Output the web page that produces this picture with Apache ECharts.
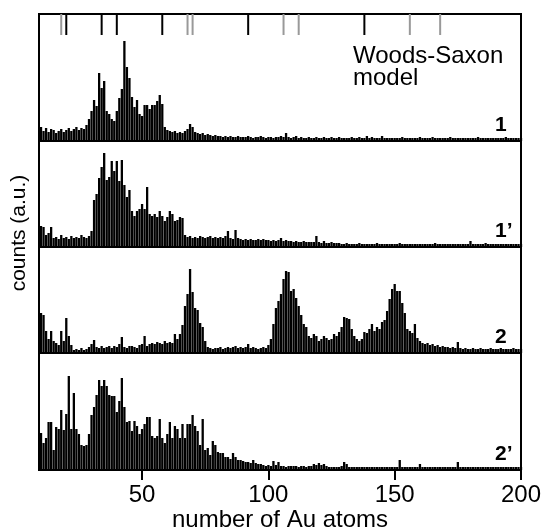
<!DOCTYPE html>
<html>
<head>
<meta charset="utf-8">
<script src="https://cdn.jsdelivr.net/npm/echarts@6/dist/echarts.min.js"></script>
<style>
html,body{margin:0;padding:0;background:#fff;}
#c{width:542px;height:530px;}
</style>
</head>
<body>
<div id="c"></div>
<script>
// ---- data: number of Au atoms from 10 to 200, counts (a.u.) per cluster size ----
const N_FIRST = 10, N_LAST = 200;
const xTicks = [50, 100, 150, 200];
const magicBlack = [20, 34, 40, 58, 92, 138];
const magicGrey = [18, 68, 70, 106, 112, 156, 168];
const panelLabels = ['1', '1\u2019', '2', '2\u2019'];

const s1 = [
 14,10,13,9,12,11,8,10,12,9,
 11,13,10,12,14,11,13,12,16,22,
 30,41,35,68,53,60,30,27,22,20,
 30,43,52,100,74,63,44,34,41,27,
 25,36,36,32,36,36,40,46,37,14,
 11,10,9,10,8,9,8,10,12,17,
 14,9,8,7,8,6,7,6,5,6,
 5,5,4,5,4,5,4,4,5,4,
 4,4,5,4,3,4,4,5,4,3,
 4,4,3,4,4,5,4,8,4,3,
 4,5,3,4,3,3,4,3,3,4,
 3,3,4,3,3,4,3,3,4,3,
 3,3,3,4,3,3,4,3,3,5,
 3,4,3,3,3,5,3,3,3,3,
 3,3,3,4,3,3,3,3,3,3,
 4,3,3,3,3,4,3,3,3,3,
 3,3,4,3,3,3,3,3,3,3,
 3,3,3,4,3,3,3,3,3,3,
 3,3,3,3,4,3,3,3,3,3,3
];
const s1p = [
 21,20,12,14,20,9,10,8,12,9,
 10,8,11,9,10,9,12,10,9,11,
 16,47,53,69,80,94,67,70,86,76,
 86,66,87,62,50,57,36,31,36,38,
 43,38,60,33,31,33,30,36,31,26,
 30,36,33,26,27,30,29,12,10,11,
 9,10,9,11,10,9,10,11,9,10,
 9,10,9,11,16,9,8,17,9,8,
 7,8,7,8,7,7,8,7,8,7,
 7,6,7,6,7,9,6,7,6,6,
 5,6,5,5,6,5,5,5,5,11,
 5,4,6,4,4,5,4,4,4,3,
 3,4,3,3,3,3,4,3,3,3,
 3,3,3,4,3,3,3,3,3,3,
 3,3,4,3,3,3,3,3,3,3,
 3,3,3,3,3,3,4,3,3,3,
 3,3,3,3,3,3,3,3,3,3,
 6,3,3,3,3,3,4,3,3,3,
 3,3,3,3,3,3,3,3,3,3,3
];
const s2 = [
 40,38,22,14,22,12,10,8,22,12,
 35,17,8,3,4,3,5,3,4,6,
 9,13,6,5,7,5,6,7,5,7,
 6,9,16,6,5,7,7,6,5,8,
 9,17,7,9,10,9,11,10,9,12,
 10,11,10,19,14,19,28,47,59,84,
 61,45,43,30,26,12,6,5,4,5,
 5,6,4,5,6,5,6,7,5,6,
 5,6,9,5,6,5,4,5,6,5,
 8,14,29,45,52,59,74,82,81,62,
 64,55,47,38,29,26,17,15,19,17,
 12,14,17,15,13,14,19,17,21,26,
 36,35,34,24,17,14,12,14,21,20,
 24,29,22,26,24,31,33,42,54,64,
 69,62,62,50,40,24,22,20,29,15,
 12,10,9,10,8,9,7,8,6,7,
 6,6,5,6,5,11,5,4,5,4,
 4,5,4,4,5,4,4,4,5,4,
 4,4,5,4,4,4,4,5,4,4,4
];
const s2p = [
 37,27,32,48,48,20,43,41,60,40,
 56,94,41,77,41,36,25,24,25,36,
 55,63,75,90,84,90,84,75,74,74,
 58,69,92,63,48,49,39,49,44,36,
 41,46,53,53,34,32,34,51,32,27,
 36,48,32,44,41,32,46,32,46,46,
 55,44,39,25,51,20,22,15,29,25,
 18,17,17,13,13,11,17,13,10,10,
 9,8,8,7,10,7,6,6,5,4,
 5,4,9,5,8,4,4,3,4,4,
 4,4,3,4,4,3,4,4,6,5,
 7,5,6,4,3,3,3,3,3,4,
 8,6,3,3,3,3,3,3,3,3,
 3,3,3,3,3,3,3,3,3,3,
 3,3,10,3,3,3,3,3,3,3,
 6,3,3,3,3,3,3,3,3,3,
 3,3,3,3,3,8,3,3,3,3,
 3,3,3,3,3,3,3,3,3,3,
 3,3,3,3,3,3,3,3,3,3,3
];
const seriesValues = [s1, s1p, s2, s2p];

// ---- layout / style ----
const FONT = 'Liberation Sans, Arial, Helvetica, sans-serif';
const X_MIN = 9.2, X_MAX = 200;
const LEFT = 39, RIGHT = 21;
const panelTops = [14, 141, 247, 353];
const panelHeights = [127, 106, 106, 117];
const TICK_LEN = 21;

const sizes = [];
for (let n = N_FIRST; n <= N_LAST; n++) sizes.push(n);

const grids = [], xAxes = [], yAxes = [], series = [];
panelTops.forEach((top, i) => {
  grids.push({left: LEFT, right: RIGHT, top: top, height: panelHeights[i], show: true,
    outerBoundsMode: 'none', containLabel: false,
    borderColor: '#000', borderWidth: 2, backgroundColor: 'transparent'});
  const last = i === 3;
  xAxes.push({
    type: 'value', gridIndex: i, min: X_MIN, max: X_MAX,
    axisLine: {show: false}, splitLine: {show: false},
    axisTick: {show: last, customValues: xTicks, inside: false, length: 10,
      lineStyle: {color: '#000', width: 2}},
    axisLabel: {show: last, customValues: xTicks, color: '#000', fontSize: 24,
      fontFamily: FONT, margin: 13},
    name: last ? 'number of Au atoms' : '', nameLocation: 'middle', nameGap: 36,
    nameTextStyle: {color: '#000', fontSize: 24, fontFamily: FONT}
  });
  yAxes.push({type: 'value', gridIndex: i, min: 0, max: panelHeights[i], show: false});
  series.push({
    type: 'bar', xAxisIndex: i, yAxisIndex: i, barWidth: 2.3,
    data: sizes.map((n, j) => [n, seriesValues[i][j]]),
    itemStyle: {color: '#000'}, silent: true, animation: false
  });
});
// grid for the Woods-Saxon magic-number ticks hanging from the top frame
grids.push({left: LEFT, right: RIGHT, top: panelTops[0], height: panelHeights[0], show: false,
  outerBoundsMode: 'none', containLabel: false});
xAxes.push({type: 'value', gridIndex: 4, min: X_MIN, max: X_MAX, show: false});
yAxes.push({type: 'value', gridIndex: 4, min: 0, max: panelHeights[0], inverse: true, show: false});
series.push({type: 'bar', xAxisIndex: 4, yAxisIndex: 4, barWidth: 2, barGap: '-100%',
  data: magicGrey.map(n => [n, TICK_LEN]), itemStyle: {color: '#999'}, silent: true, animation: false});
series.push({type: 'bar', xAxisIndex: 4, yAxisIndex: 4, barWidth: 2, barGap: '-100%',
  data: magicBlack.map(n => [n, TICK_LEN]), itemStyle: {color: '#000'}, silent: true, animation: false});

const graphics = [
  {type: 'text', left: 353, top: 44, silent: true,
   style: {text: 'Woods-Saxon\nmodel', font: '24px ' + FONT, fill: '#000', lineHeight: 22}},
  {type: 'text', x: 19, y: 233, rotation: Math.PI / 2, silent: true,
   style: {text: 'counts (a.u.)', font: '21px ' + FONT, fill: '#000',
     align: 'center', verticalAlign: 'middle', textAlign: 'center', textVerticalAlign: 'middle'}}
];
panelLabels.forEach((lab, i) => {
  graphics.push({type: 'text', x: 495, y: panelTops[i] + panelHeights[i] - 5, silent: true,
    style: {text: lab, font: 'bold 21px ' + FONT, fill: '#000',
      align: 'left', verticalAlign: 'bottom', textAlign: 'left', textVerticalAlign: 'bottom'}});
});

const chart = echarts.init(document.getElementById('c'), null, {renderer: 'canvas'});
chart.setOption({
  animation: false,
  backgroundColor: '#fff',
  grid: grids, xAxis: xAxes, yAxis: yAxes, series: series, graphic: graphics
});
</script>
</body>
</html>
